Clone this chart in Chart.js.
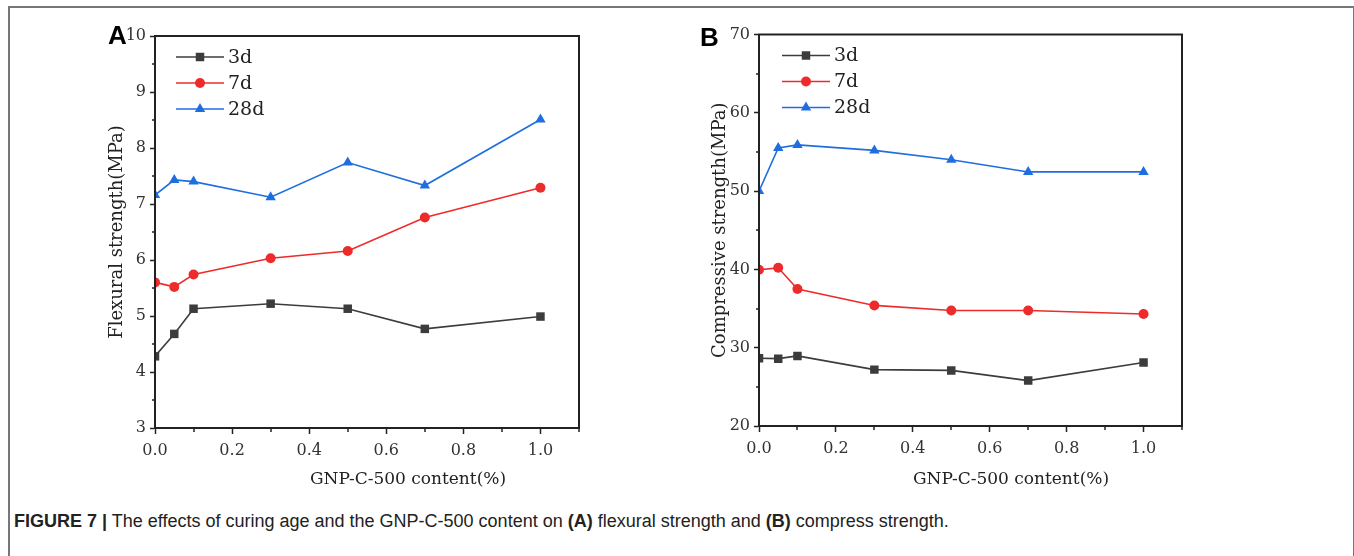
<!DOCTYPE html>
<html>
<head>
<meta charset="utf-8">
<script src="https://cdn.jsdelivr.net/npm/chart.js@4.4.0/dist/chart.umd.min.js"></script>
<style>
    body { margin: 0; background: #fff; width: 1354px; height: 556px; overflow: hidden; position: relative; }
    #frame { position: absolute; left: 8px; top: 6px; width: 1343px; height: 600px; border: 2px solid #777; border-bottom: none; }
    .panel { position: absolute; width: 520px; height: 470px; top: 20px; }
    .letter { position: absolute; font: bold 26px "Liberation Sans", Arial, sans-serif; color: #000; }
    .xtitle { position: absolute; font: 17px "DejaVu Serif", serif; color: #222; transform: translateX(-50%); white-space: nowrap; }
    #caption { position: absolute; left: 14px; top: 511px; font: 18px "Liberation Sans", Arial, sans-serif; color: #222; white-space: nowrap; }
    #caption b { font-weight: bold; }
</style>
</head>
<body>
<div id="frame"></div>
<div class="panel" style="left:90px"><canvas id="flexChart"></canvas></div>
<div class="panel" style="left:690px"><canvas id="compChart"></canvas></div>
<div class="letter" style="left:108px; top:20px">A</div>
<div class="letter" style="left:700px; top:22px">B</div>
<div class="xtitle" style="left:408px; top:468px">GNP-C-500 content(%)</div>
<div class="xtitle" style="left:1011px; top:468px">GNP-C-500 content(%)</div>
<div id="caption"><b>FIGURE 7 |</b> The effects of curing age and the GNP-C-500 content on <b>(A)</b> flexural strength and <b>(B)</b> compress strength.</div>

<script>
"use strict";

// GNP-C-500 content (%)
let contents = [0, 0.05, 0.1, 0.3, 0.5, 0.7, 1.0];
let ageLabels = ["3d", "7d", "28d"];

// flexural strength (MPa)
let flex3d = [4.28, 4.68, 5.13, 5.22, 5.13, 4.77, 4.99];
let flex7d = [5.6, 5.52, 5.74, 6.03, 6.16, 6.76, 7.29];
let flex28d = [7.16, 7.43, 7.4, 7.12, 7.74, 7.33, 8.51];

// compressive strength (MPa)
let comp3d = [28.65, 28.6, 28.95, 27.2, 27.1, 25.8, 28.1];
let comp7d = [39.95, 40.2, 37.5, 35.4, 34.75, 34.75, 34.3];
let comp28d = [50.0, 55.5, 55.9, 55.2, 54.0, 52.45, 52.45];

let seriesColors = ["#3c3c3c", "#ee2b2b", "#1f6ee0"];
let seriesPoints = ["rect", "circle", "triangle"];
let seriesRadius = [6, 5, 6];

let serif = "'DejaVu Serif', serif";
let ink = "#222";

function make_sets(lists)
{
    let sets = [];
    for (let i = 0; i < lists.length; i++)
    {
        sets.push({
            label: ageLabels[i],
            data: contents.map((c, k) => ({ x: c, y: lists[i][k] })),
            borderColor: seriesColors[i],
            backgroundColor: seriesColors[i],
            borderWidth: 1.6,
            pointStyle: seriesPoints[i],
            pointRadius: seriesRadius[i],
            pointHoverRadius: seriesRadius[i],
            pointBorderWidth: 0,
            tension: 0
        });
    }
    return sets;
}

// box around the plot, minor ticks and the legend inside
let framePlugin = {
    id: "framePlugin",
    afterDraw(chart, args, opts)
    {
        let ctx = chart.ctx;
        let a = chart.chartArea;
        let sx = chart.scales.x;
        let sy = chart.scales.y;
        ctx.save();
        ctx.strokeStyle = ink;
        ctx.lineWidth = 2;
        ctx.strokeRect(a.left, a.top, a.right - a.left, a.bottom - a.top);

        ctx.lineWidth = 1.5;
        ctx.beginPath();
        for (let v = 0.1; v <= sx.max + 0.001; v += 0.2)
        {
            let px = Math.round(sx.getPixelForValue(v));
            ctx.moveTo(px, a.bottom);
            ctx.lineTo(px, a.bottom + 4);
        }
        for (let v = sy.min + opts.minor; v < sy.max; v += opts.minor * 2)
        {
            let py = Math.round(sy.getPixelForValue(v));
            ctx.moveTo(a.left, py);
            ctx.lineTo(a.left - 3, py);
        }
        ctx.stroke();

        let sets = chart.data.datasets;
        let x0 = a.left + opts.legendX;
        let y0 = a.top + 21;
        ctx.font = "19px " + serif;
        ctx.textBaseline = "middle";
        for (let i = 0; i < sets.length; i++)
        {
            let y = y0 + i * 26;
            ctx.strokeStyle = sets[i].borderColor;
            ctx.fillStyle = sets[i].backgroundColor;
            ctx.lineWidth = 1.6;
            ctx.beginPath();
            ctx.moveTo(x0, y);
            ctx.lineTo(x0 + 48, y);
            ctx.stroke();
            Chart.helpers.drawPoint(ctx, { pointStyle: sets[i].pointStyle, radius: sets[i].pointRadius, rotation: 0, borderWidth: 0 }, x0 + 24, y);
            ctx.fillStyle = ink;
            ctx.fillText(sets[i].label, x0 + 52, y + 1);
        }
        ctx.restore();
    }
};

function make_chart(id, lists, yMin, yMax, yStep, yTitle, pad, yWidth, xHeight, titlePad, legendX)
{
    let canvas = document.getElementById(id);
    canvas.width = 520;
    canvas.height = 470;
    return new Chart(canvas.getContext("2d"), {
        type: "line",
        data: { datasets: make_sets(lists) },
        plugins: [framePlugin],
        options: {
            responsive: false,
            animation: false,
            layout: { padding: pad },
            plugins: {
                legend: { display: false },
                tooltip: { enabled: false },
                framePlugin: { minor: yStep / 2, legendX: legendX }
            },
            scales: {
                x: {
                    type: "linear",
                    min: 0,
                    max: 1.1,
                    afterFit: s => { s.height = xHeight; },
                    border: { display: true, color: ink, width: 2 },
                    grid: { drawOnChartArea: false, drawTicks: true, tickLength: 6, tickColor: ink, tickWidth: 1.5 },
                    ticks: {
                        stepSize: 0.2,
                        includeBounds: false,
                        padding: 7,
                        maxRotation: 0,
                        color: "#333",
                        font: { family: serif, size: 16 },
                        callback: v => v.toFixed(1)
                    }
                },
                y: {
                    type: "linear",
                    min: yMin,
                    max: yMax,
                    afterFit: s => { s.width = yWidth; },
                    border: { display: true, color: ink, width: 2 },
                    grid: { drawOnChartArea: false, drawTicks: true, tickLength: 5, tickColor: ink, tickWidth: 1.5 },
                    ticks: {
                        stepSize: yStep,
                        padding: 4,
                        color: "#333",
                        font: { family: serif, size: 16 }
                    },
                    title: {
                        display: true,
                        text: yTitle,
                        color: ink,
                        padding: { top: titlePad, bottom: 0 },
                        font: { family: serif, size: 18 }
                    }
                }
            }
        }
    });
}

let flexChart = make_chart("flexChart", [flex3d, flex7d, flex28d], 3, 10, 1,
    "Flexural strength(MPa)", { left: 0, top: 16, right: 31, bottom: 0 }, 65, 62, 17, 21);

let compChart = make_chart("compChart", [comp3d, comp7d, comp28d], 20, 70, 10,
    "Compressive strength(MPa)", { left: 0, top: 14.5, right: 28, bottom: 0 }, 69, 64, 20, 23);
</script>
</body>
</html>
